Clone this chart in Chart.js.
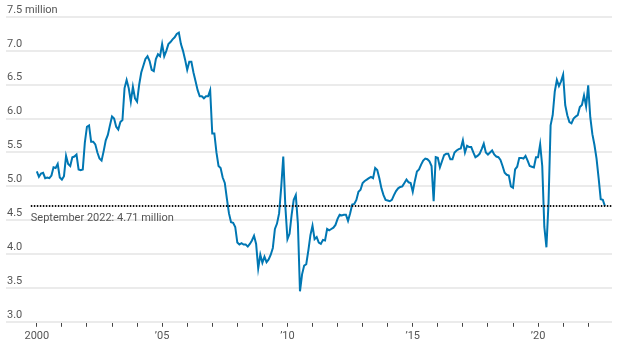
<!DOCTYPE html>
<html>
<head>
<meta charset="utf-8">
<script src="https://cdn.jsdelivr.net/npm/chart.js@4.4.0/dist/chart.umd.min.js"></script>
<style>
  html, body { margin: 0; padding: 0; background: #fff; }
</style>
</head>
<body>
<canvas id="chart" width="624" height="349"></canvas>
<script>
// Existing-home sales, seasonally adjusted annual rate, millions (monthly, Jan 2000 - Sep 2022)
const startYear = 2000;
const salesMillions = [
  5.22, 5.14, 5.19, 5.20, 5.12, 5.13, 5.12, 5.16, 5.28, 5.27, 5.33, 5.13, // 2000
  5.10, 5.15, 5.45, 5.33, 5.30, 5.43, 5.44, 5.47, 5.25, 5.24, 5.25, 5.65, // 2001
  5.88, 5.90, 5.66, 5.66, 5.62, 5.50, 5.41, 5.38, 5.52, 5.68, 5.76, 5.90, // 2002
  6.03, 6.00, 5.88, 5.84, 5.95, 5.98, 6.45, 6.57, 6.45, 6.25, 6.47, 6.30, // 2003
  6.25, 6.50, 6.68, 6.78, 6.88, 6.92, 6.85, 6.72, 6.70, 6.88, 6.95, 6.92, // 2004
  7.10, 6.92, 7.00, 7.10, 7.13, 7.17, 7.20, 7.25, 7.27, 7.10, 7.00, 6.87, // 2005
  6.72, 6.84, 6.84, 6.68, 6.55, 6.42, 6.33, 6.33, 6.30, 6.33, 6.33, 6.42, // 2006
  5.78, 5.78, 5.50, 5.30, 5.27, 5.13, 5.05, 4.82, 4.60, 4.47, 4.46, 4.40, // 2007
  4.17, 4.14, 4.16, 4.14, 4.14, 4.11, 4.15, 4.20, 4.27, 4.15, 3.79, 3.99, // 2008
  3.87, 3.96, 3.88, 3.92, 3.99, 4.09, 4.37, 4.45, 4.60, 4.98, 5.44, 4.70, // 2009
  4.22, 4.30, 4.58, 4.80, 4.87, 4.45, 3.45, 3.70, 3.83, 3.85, 4.05, 4.28, // 2010
  4.42, 4.22, 4.25, 4.17, 4.15, 4.21, 4.20, 4.37, 4.35, 4.37, 4.39, 4.43, // 2011
  4.52, 4.58, 4.57, 4.58, 4.58, 4.49, 4.60, 4.73, 4.74, 4.80, 4.92, 4.95, // 2012
  5.05, 5.08, 5.10, 5.12, 5.14, 5.12, 5.27, 5.24, 5.12, 4.97, 4.87, 4.80, // 2013
  4.79, 4.78, 4.80, 4.87, 4.93, 4.97, 4.99, 5.00, 5.05, 5.10, 5.06, 5.05, // 2014
  4.92, 5.08, 5.22, 5.25, 5.32, 5.38, 5.41, 5.40, 5.37, 5.30, 4.78, 5.43, // 2015
  5.42, 5.28, 5.37, 5.46, 5.48, 5.48, 5.40, 5.40, 5.50, 5.53, 5.55, 5.56, // 2016
  5.68, 5.50, 5.60, 5.58, 5.58, 5.50, 5.43, 5.45, 5.48, 5.55, 5.63, 5.50, // 2017
  5.47, 5.50, 5.53, 5.47, 5.44, 5.43, 5.39, 5.30, 5.20, 5.17, 5.16, 5.00, // 2018
  4.98, 5.25, 5.29, 5.42, 5.42, 5.41, 5.45, 5.38, 5.30, 5.29, 5.28, 5.43, // 2019
  5.43, 5.62, 5.30, 4.40, 4.10, 4.75, 5.90, 6.05, 6.40, 6.57, 6.48, 6.55, // 2020
  6.65, 6.20, 6.05, 5.95, 5.93, 6.00, 6.03, 6.05, 6.17, 6.20, 6.34, 6.18, // 2021
  6.49, 6.02, 5.77, 5.61, 5.41, 5.12, 4.81, 4.80, 4.71                    // 2022
];

const latestValue = 4.71;
const latestLabel = "September 2022: 4.71 million";

const tickYears = [];
for (let y = 2000; y <= 2022; y++) tickYears.push(y);
const yearLabels = { 2000: "2000", 2005: "\u201905", 2010: "\u201910", 2015: "\u201915", 2020: "\u201920" };

const xMin = 1998.77;
const xMax = 2022.95;

const points = salesMillions.map((v, i) => ({ x: startYear + i / 12, y: v }));

const FONT = "Roboto, 'Noto Sans', sans-serif";

// label under the dotted line
const refLabelPlugin = {
  id: "refLabel",
  afterDatasetsDraw(chart) {
    const { ctx, scales } = chart;
    const x = scales.x.getPixelForValue(1999.76);
    const y = scales.y.getPixelForValue(latestValue);
    ctx.save();
    ctx.font = "11px " + FONT;
    ctx.fillStyle = "#555";
    ctx.textBaseline = "middle";
    ctx.textAlign = "left";
    ctx.fillText(latestLabel, x, y + 12);
    ctx.restore();
  }
};

new Chart(document.getElementById("chart"), {
  type: "line",
  data: {
    datasets: [
      {
        data: points,
        borderColor: "#0077b3",
        borderWidth: 2,
        pointRadius: 0,
        tension: 0,
        order: 2
      },
      {
        data: [{ x: 1999.76, y: latestValue }, { x: xMax, y: latestValue }],
        borderColor: "#111",
        borderWidth: 2,
        borderDash: [1.5, 1.5],
        pointRadius: 0,
        order: 1
      }
    ]
  },
  options: {
    responsive: false,
    devicePixelRatio: 1,
    animation: false,
    layout: { padding: { left: 4, right: 12, top: 17, bottom: 3 } },
    plugins: {
      legend: { display: false },
      tooltip: { enabled: false }
    },
    scales: {
      x: {
        type: "linear",
        min: xMin,
        max: xMax,
        afterBuildTicks: (scale) => {
          scale.ticks = tickYears.map(y => ({ value: y }));
        },
        grid: {
          drawOnChartArea: false,
          drawTicks: true,
          tickLength: 5,
          tickColor: "#444",
          tickWidth: 1
        },
        border: { display: false },
        ticks: {
          autoSkip: false,
          maxRotation: 0,
          padding: 3,
          color: "#555",
          font: { family: FONT, size: 11 },
          callback: (v) => yearLabels[v] || ""
        }
      },
      y: {
        min: 3,
        max: 7.5,
        grid: { color: "#ebebeb", lineWidth: 2, drawTicks: false },
        border: { display: false },
        ticks: {
          stepSize: 0.5,
          mirror: true,
          padding: 1,
          labelOffset: -7,
          color: "#555",
          font: { family: FONT, size: 11 },
          callback: (v) => v === 7.5 ? "7.5 million" : v.toFixed(1)
        }
      }
    }
  },
  plugins: [refLabelPlugin]
});
</script>
</body>
</html>
